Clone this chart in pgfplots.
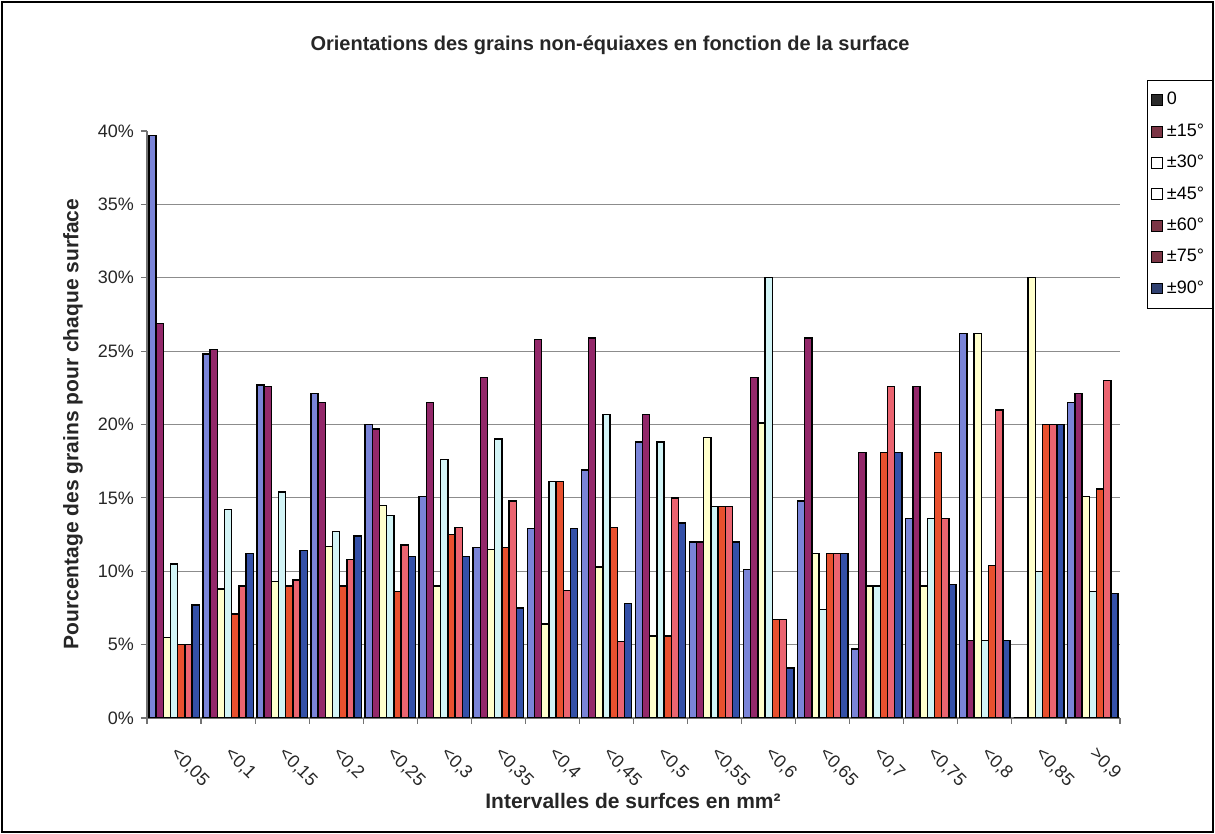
\documentclass[border=0pt]{standalone}
\usepackage{fontspec}
\setmainfont{Liberation Sans}
\usepackage{pgfplots}
\pgfplotsset{compat=1.18}
\usepackage{pgfplotstable}

\definecolor{c0}{HTML}{7A84D8}
\definecolor{c15}{HTML}{93286A}
\definecolor{c30}{HTML}{FFFFCC}
\definecolor{c45}{HTML}{D2F4F6}
\definecolor{c60}{HTML}{E8502E}
\definecolor{c75}{HTML}{EB6470}
\definecolor{c90}{HTML}{3450A8}
\definecolor{lgdark}{HTML}{2A2A2A}
\definecolor{lgred}{HTML}{7B3545}
\definecolor{lgblue}{HTML}{2F4070}

% valeurs en %
\pgfplotstableread{
x  s0   s15  s30  s45  s60  s75  s90
0  39.7 26.9 5.5  10.5 5.0  5.0  7.7
1  24.8 25.1 8.8  14.2 7.1  9.0  11.2
2  22.7 22.6 9.3  15.4 9.0  9.4  11.4
3  22.1 21.5 11.7 12.7 9.0  10.8 12.4
4  20.0 19.7 14.5 13.8 8.6  11.8 11.0
5  15.1 21.5 9.0  17.6 12.5 13.0 11.0
6  11.6 23.2 11.5 19.0 11.6 14.8 7.5
7  12.9 25.8 6.4  16.1 16.1 8.7  12.9
8  16.9 25.9 10.3 20.7 13.0 5.2  7.8
9  18.8 20.7 5.6  18.8 5.6  15.0 13.3
10 12.0 12.0 19.1 14.4 14.4 14.4 12.0
11 10.1 23.2 20.1 30.0 6.7  6.7  3.4
12 14.8 25.9 11.2 7.4  11.2 11.2 11.2
13 4.7  18.1 9.0  9.0  18.1 22.6 18.1
14 13.6 22.6 9.0  13.6 18.1 13.6 9.1
15 26.2 5.3  26.2 5.3  10.4 21.0 5.3
16 0    0    30.0 10.0 20.0 20.0 20.0
17 21.5 22.1 15.1 8.6  15.6 23.0 8.5
}\datatable

\pgfplotsset{
  sw/.style={legend image code/.code={
    \draw[fill=#1,draw=black,line width=0.4pt] (0pt,-2.7pt) rectangle (5.4pt,2.7pt);}},
  bars/.style={fill=#1,draw=black,line width=0.7pt},
}

\begin{document}
\begin{tikzpicture}
\useasboundingbox (-73.5pt,-58pt) rectangle (534pt,359pt);
\draw[black,line width=0.6pt] (-72.5pt,-57pt) rectangle (533pt,358pt);
\begin{axis}[
  scale only axis,
  width=486.5pt, height=293.5pt,
  ybar=0pt, bar width=3.6pt,
  xmin=-0.5, xmax=17.5, ymin=0, ymax=40,
  axis lines=left,
  axis line style={-,draw=black!55,line width=0.6pt},
  xtick={0,...,17},
  xticklabels={{<0,05},{<0,1},{<0,15},{<0,2},{<0,25},{<0,3},{<0,35},{<0,4},{<0,45},{<0,5},{<0,55},{<0,6},{<0,65},{<0,7},{<0,75},{<0,8},{<0,85},{>0,9}},
  every major x tick/.style={draw=none},
  minor xtick={-0.5,0.5,1.5,2.5,3.5,4.5,5.5,6.5,7.5,8.5,9.5,10.5,11.5,12.5,13.5,14.5,15.5,16.5,17.5},
  tick align=outside,
  major tick length=3pt, minor tick length=3pt,
  tick style={draw=black!55,line width=0.6pt},
  ytick={0,5,...,35},
  yticklabels={0\%,5\%,10\%,15\%,20\%,25\%,30\%,35\%},
  extra y ticks={40}, extra y tick labels={40\%},
  extra y tick style={grid=none},
  ymajorgrids,
  grid style={draw=black!45,line width=0.6pt},
  tick label style={font=\fontsize{9}{10}\selectfont, text=black!85},
  xticklabel style={rotate=-45, anchor=north west, xshift=6pt, yshift=-2.5pt},
  title={Orientations des grains non-équiaxes en fonction de la surface},
  title style={at={(0.4759,1.1465)}, anchor=center, yshift=-6pt, font=\bfseries\fontsize{10}{12}\selectfont, text=black!85},
  xlabel={Intervalles de surfces en mm²},
  xlabel style={at={(0.4995,-0.1414)}, anchor=center, font=\bfseries\fontsize{10.5}{12}\selectfont, text=black!85},
  ylabel={Pourcentage des grains pour chaque surface},
  ylabel style={at={(-0.0761,0.5009)}, anchor=center, font=\bfseries\fontsize{10.5}{12}\selectfont, text=black!85},
  legend style={at={(1.0277,1.0869)}, anchor=north west, draw=black, line width=0.4pt,
    fill=white, font=\fontsize{9}{10}\selectfont, row sep=3.9pt,
    inner xsep=2pt, inner ysep=4pt, cells={anchor=west}},
  legend cell align=left,
]
\addplot[bars=c0, sw=lgdark] table[x=x,y=s0] {\datatable};
\addplot[bars=c15, sw=lgred] table[x=x,y=s15] {\datatable};
\addplot[bars=c30, sw=white] table[x=x,y=s30] {\datatable};
\addplot[bars=c45, sw=white] table[x=x,y=s45] {\datatable};
\addplot[bars=c60, sw=lgred] table[x=x,y=s60] {\datatable};
\addplot[bars=c75, sw=lgred] table[x=x,y=s75] {\datatable};
\addplot[bars=c90, sw=lgblue] table[x=x,y=s90] {\datatable};
\legend{0,±15°,±30°,±45°,±60°,±75°,±90°}
\end{axis}
\end{tikzpicture}
\end{document}
